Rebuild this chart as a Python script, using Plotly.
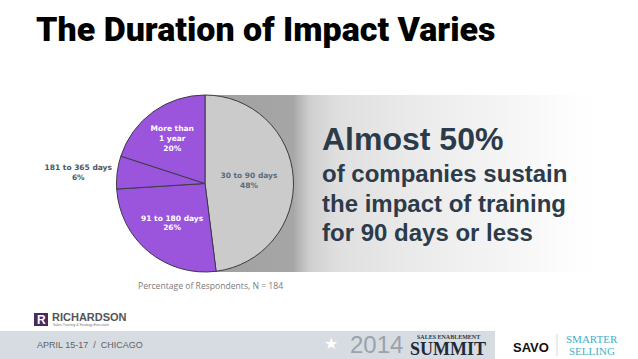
import plotly.graph_objects as go

# ---- data ----
categories = ["30 to 90 days", "91 to 180 days", "181 to 365 days", "More than<br>1 year"]
values = [48, 26, 6, 20]
slice_colors = ["#cbcbcb", "#9b55dd", "#9b55dd", "#9b55dd"]
text_colors = ["#5a6b7e", "#ffffff", "#4a5866", "#ffffff"]
text_pos = ["inside", "inside", "outside", "inside"]

W, H = 638, 359

fig = go.Figure()

# gradient band behind pie
fig.add_trace(go.Scatter(
    x=[205, 593, 593, 205, 205], y=[95, 95, 272, 272, 95],
    mode="lines", line=dict(width=0), fill="toself",
    fillgradient=dict(type="horizontal", colorscale=[
        [0, "#a0a0a0"], [0.227, "#a6a6a6"], [0.245, "#b9b9b9"], [0.27, "#cfcfcf"],
        [0.34, "#dfdfdf"], [0.55, "#ebebeb"], [0.8, "#f6f6f6"], [1, "#ffffff"]]),
    hoverinfo="skip", showlegend=False, xaxis="x", yaxis="y"))

fig.add_trace(go.Pie(
    labels=categories, values=values, sort=False, direction="clockwise", rotation=0,
    marker=dict(colors=slice_colors, line=dict(color="#3b3b48", width=1)),
    text=[f"{c}<br>{v}%" for c, v in zip(categories, values)],
    textinfo="text", textposition=text_pos,
    insidetextorientation="horizontal",
    textfont=dict(family="DejaVu Sans", size=7.5, color=text_colors, weight="bold"),
    outsidetextfont=dict(family="DejaVu Sans", size=7.5, color="#4a5866", weight="bold"),
    domain=dict(x=[(205 - 88.5) / W, (205 + 88.5) / W], y=[1 - 272 / H, 1 - 95 / H]),
    showlegend=False, hoverinfo="label+percent"))

ann = []
def t(x, y, s, size, color, family="Liberation Sans", weight="normal", xanchor="left", yanchor="middle"):
    ann.append(dict(x=x, y=y, xref="x", yref="y", text=s, showarrow=False, xanchor=xanchor,
                    yanchor=yanchor, font=dict(size=size, color=color, family=family, weight=weight)))

t(34, 29, "The Duration of Impact Varies", 34, "#000000", family="Roboto", weight=900)
t(320, 139, "Almost 50%", 32, "#2c3b4a", weight="bold")
t(320, 173, "of companies sustain", 24, "#2c3b4a", weight="bold")
t(320, 203.5, "the impact of training", 24, "#2c3b4a", weight="bold")
t(320, 232, "for 90 days or less", 24, "#2c3b4a", weight="bold")
t(136, 286, "Percentage of Respondents, N = 184", 8.6, "#7a7a7a", family="Open Sans")

# footer
shapes = [
    dict(type="rect", x0=0, x1=495, y0=331, y1=359, xref="x", yref="y", fillcolor="#d6dce1", line=dict(width=0), layer="below"),
    dict(type="rect", x0=34, x1=48, y0=313, y1=326, xref="x", yref="y", fillcolor="#4b2a5e", line=dict(width=0)),
    dict(type="line", x0=557, x1=557, y0=334, y1=356, xref="x", yref="y", line=dict(color="#c9dce2", width=1)),
]
t(41, 320, "R", 12, "#ffffff", weight="bold", xanchor="center")
t(50, 317, "RICHARDSON", 11, "#555555", family="Liberation Sans", weight="bold")
t(51, 324.5, "Sales Training & Strategy Execution", 3.5, "#777777")
t(35, 345, "APRIL 15-17  /  CHICAGO", 9, "#5f6266")
t(331, 343, "★", 16, "#ffffff", xanchor="center")
t(348, 344, "2014", 24, "#9aa3ab", family="Liberation Sans")
t(448, 337, "SALES ENABLEMENT", 6, "#2b3a4a", family="Liberation Serif", weight="bold", xanchor="center")
t(448, 348.5, "SUMMIT", 18, "#1e2b38", family="Liberation Serif", weight=900, xanchor="center")
t(531, 347, "SAVO", 13, "#111111", family="Liberation Sans", weight="bold", xanchor="center")
t(592, 339, "SMARTER", 11, "#3fb0c8", family="Liberation Serif", xanchor="center")
t(592, 351, "SELLING", 11, "#3fb0c8", family="Liberation Serif", xanchor="center")

fig.update_layout(
    width=W, height=H, margin=dict(l=0, r=0, t=0, b=0),
    paper_bgcolor="#ffffff", plot_bgcolor="rgba(0,0,0,0)",
    xaxis=dict(range=[0, W], visible=False, fixedrange=True, domain=[0, 1]),
    yaxis=dict(range=[H, 0], visible=False, fixedrange=True, domain=[0, 1]),
    annotations=ann, shapes=shapes,
)

fig.write_html("out.html", config=dict(displayModeBar=False),
               post_script="document.body.style.margin='0';document.body.style.overflow='hidden';")
